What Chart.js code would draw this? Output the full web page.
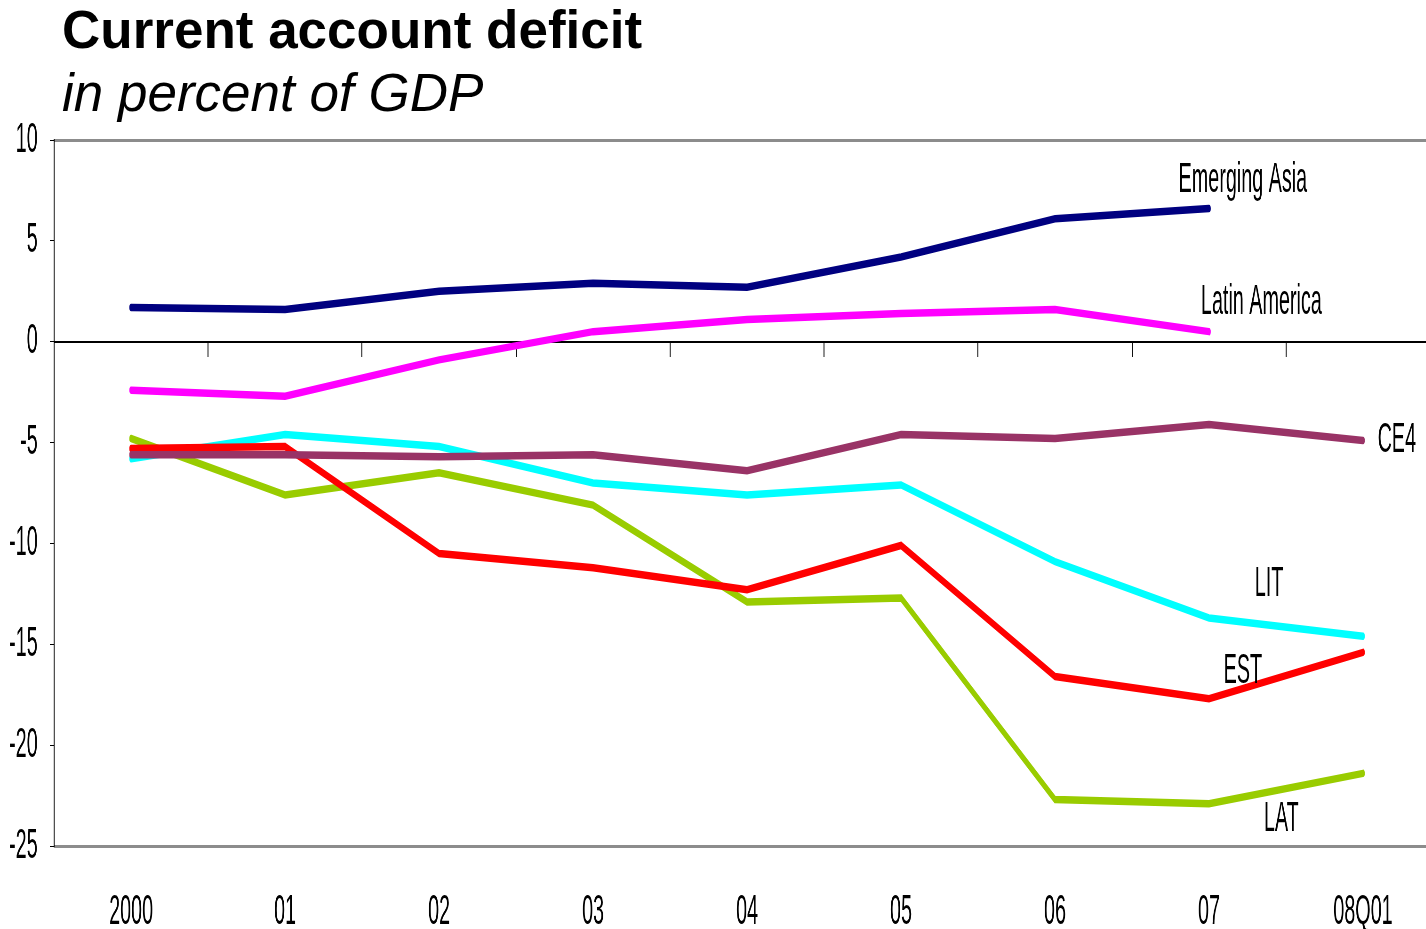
<!DOCTYPE html>
<html>
<head>
<meta charset="utf-8">
<title>Current account deficit</title>
<script src="https://cdn.jsdelivr.net/npm/chart.js@4.4.0/dist/chart.umd.min.js"></script>
<style>
  html, body { margin: 0; padding: 0; background: #fff; overflow: hidden; }
  body { width: 1426px; height: 929px; position: relative; }
  .title, .subtitle {
    position: absolute; left: 62px; margin: 0;
    font-family: "Liberation Sans", Arial, sans-serif;
    font-size: 53px; line-height: 53px; color: #000; white-space: nowrap;
  }
  .title { top: 3px; font-weight: bold; }
  .subtitle { top: 66px; font-style: italic; }
  /* the chart is drawn wider and squeezed, like the original */
  #chart { position: absolute; left: 0; top: 0; width: 1440px; height: 929px; }
</style>
</head>
<body>
<div class="title">Current account deficit</div>
<div class="subtitle">in percent of GDP</div>
<canvas id="chart" width="3060" height="929" style="width:1440px;height:929px"></canvas>

<script>
// Data
const categories = ["2000", "01", "02", "03", "04", "05", "06", "07", "08Q01"];

const emergingAsia = [1.7, 1.6, 2.5, 2.9, 2.7, 4.2, 6.1, 6.6, null];
const latinAmerica = [-2.4, -2.7, -0.9, 0.5, 1.1, 1.4, 1.6, 0.5, null];
const ce4 = [-5.6, -5.6, -5.7, -5.6, -6.4, -4.6, -4.8, -4.1, -4.9];
const lit = [-5.8, -4.6, -5.2, -7.0, -7.6, -7.1, -10.9, -13.7, -14.6];
const est = [-5.3, -5.2, -10.5, -11.2, -12.3, -10.1, -16.6, -17.7, -15.4];
const lat = [-4.8, -7.6, -6.5, -8.1, -12.9, -12.7, -22.7, -22.9, -21.4];

const yTicks = { min: -25, max: 10, step: 5 };

// Series labels placed in data coordinates (category index, value)
const seriesLabels = [
  { text: "Emerging Asia", x: 7.22, y: 8.0 },
  { text: "Latin America", x: 7.34, y: 1.95 },
  { text: "CE4", x: 8.22, y: -4.9 },
  { text: "LIT", x: 7.39, y: -12.05 },
  { text: "EST", x: 7.22, y: -16.35 },
  { text: "LAT", x: 7.47, y: -23.7 },
];

const FONT = '"Liberation Sans", Arial, sans-serif';
const FONT_SIZE = 42;
const SQUEEZE = 1440 / 3060; // css px per canvas px, horizontally

function line(label, data, color) {
  return {
    label: label,
    data: data,
    borderColor: color,
    backgroundColor: color,
    borderWidth: 7.5,
    borderCapStyle: "round",
    pointRadius: 0,
    tension: 0,
    fill: false,
  };
}

// Draw the text next to each series
const seriesLabelPlugin = {
  id: "seriesLabels",
  afterDatasetsDraw(chart) {
    const ctx = chart.ctx;
    const xs = chart.scales.x;
    const ys = chart.scales.y;
    ctx.save();
    ctx.font = FONT_SIZE + "px " + FONT;
    ctx.fillStyle = "#000";
    ctx.textAlign = "center";
    ctx.textBaseline = "middle";
    seriesLabels.forEach((l) => {
      ctx.fillText(l.text, xs.getPixelForValue(l.x), ys.getPixelForValue(l.y));
    });
    ctx.restore();
  },
};

new Chart(document.getElementById("chart"), {
  type: "line",
  data: {
    labels: categories,
    datasets: [
      line("Emerging Asia", emergingAsia, "#000080"),
      line("Latin America", latinAmerica, "#ff00ff"),
      line("CE4", ce4, "#993366"),
      line("EST", est, "#ff0000"),
      line("LIT", lit, "#00ffff"),
      line("LAT", lat, "#99cc00"),
    ],
  },
  options: {
    responsive: false,
    animation: false,
    devicePixelRatio: 1,
    layout: { padding: { top: 140, left: 0, right: 0, bottom: 0 } },
    plugins: {
      legend: { display: false },
      tooltip: { enabled: false },
      title: { display: false },
    },
    scales: {
      x: {
        type: "category",
        position: "bottom",
        offset: true,
        grid: { display: false },
        border: { display: true, color: "#8c8c8c", width: 3 },
        ticks: {
          color: "#000",
          font: { family: FONT, size: FONT_SIZE },
          padding: 33,
          maxRotation: 0,
          autoSkip: false,
        },
        afterFit: (s) => { s.height = 83; },
      },
      xTop: {
        type: "category",
        position: "top",
        offset: true,
        grid: { display: false },
        ticks: { display: false },
        border: { display: true, color: "#8c8c8c", width: 3 },
        afterFit: (s) => { s.height = 0; },
      },
      xZero: {
        type: "category",
        position: { y: 0 },
        offset: true,
        grid: {
          display: true,
          offset: true,
          drawOnChartArea: false,
          drawTicks: true,
          tickLength: 14,
          color: "#000",
          lineWidth: 2,
        },
        ticks: { display: false },
        border: { display: true, color: "#000", width: 2 },
      },
      y: {
        type: "linear",
        position: "left",
        min: yTicks.min,
        max: yTicks.max,
        grid: {
          display: true,
          drawOnChartArea: false,
          drawTicks: true,
          tickLength: Math.round(4 / SQUEEZE),
          color: "#000",
          lineWidth: 1,
        },
        border: { display: true, color: "#000", width: 2 },
        ticks: {
          stepSize: yTicks.step,
          color: "#000",
          font: { family: FONT, size: FONT_SIZE },
          padding: Math.round(12 / SQUEEZE),
        },
        afterFit: (s) => { s.width = Math.round(54 / SQUEEZE); },
      },
    },
  },
  plugins: [seriesLabelPlugin],
});
</script>
</body>
</html>
